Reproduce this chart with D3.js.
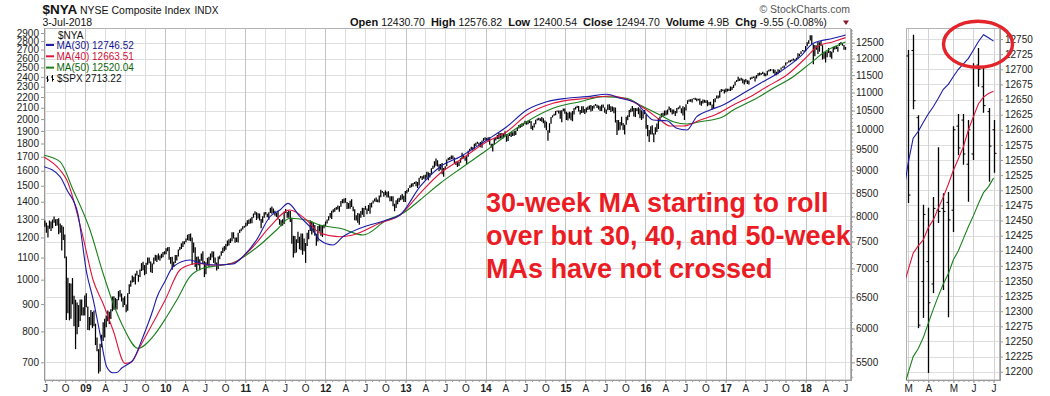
<!DOCTYPE html>
<html>
<head>
<meta charset="utf-8">
<script src="https://cdn.jsdelivr.net/npm/d3@7"></script>
<style>
  body { margin: 0; background: #fff; }
  svg { display: block; font-family: "Liberation Sans", Arial, sans-serif; }
</style>
</head>
<body>
<svg id="chart" width="1050" height="396"></svg>
<script>
// ---------- DATA ----------
// $SPX weekly bars [low, high], one block per year, first week (Monday) of each block below
const spxWeekStarts = ["2008-06-23", "2008-12-29", "2009-12-28", "2011-01-03", "2012-01-02", "2012-12-31",
                       "2013-12-30", "2014-12-29", "2015-12-28", "2017-01-02", "2018-01-01"];
const spx2008 = [[1272,1326],[1257,1291],[1225,1278],[1200,1263],[1246,1291],[1234,1285],[1248,1297],[1278,1313],[1261,1298],[1264,1300],[1217,1303],[1225,1274],[1134,1265],[1187,1256],[1097,1215],[840,1105],[865,1008],[839,985],[845,984],[899,1007],[818,933],[741,917],[790,906],[815,896],[837,918],[857,918],[857,888]];
const spx2009 = [[857,934],[888,943],[805,891],[804,851],[821,877],[812,870],[818,875],[754,827],[734,779],[667,741],[673,758],[747,788],[767,832],[779,845],[814,857],[836,875],[826,871],[844,880],[873,930],[878,931],[879,924],[879,920],[915,952],[929,956],[910,942],[888,925],[896,931],[869,898],[874,943],[940,980],[970,996],[988,1018],[990,1013],[979,1027],[1018,1039],[991,1021],[1012,1045],[1038,1074],[1041,1080],[1019,1065],[1025,1076],[1066,1101],[1073,1101],[1033,1081],[1029,1072],[1069,1100],[1085,1113],[1079,1111],[1090,1119],[1085,1110],[1097,1118],[1102,1127]];
const spx2010 = [[1115,1130],[1116,1145],[1131,1150],[1090,1151],[1071,1103],[1044,1104],[1056,1080],[1075,1112],[1086,1112],[1105,1139],[1136,1151],[1141,1170],[1152,1181],[1165,1181],[1175,1195],[1186,1214],[1183,1218],[1181,1220],[1066,1200],[1123,1174],[1056,1150],[1040,1104],[1064,1105],[1042,1092],[1085,1120],[1071,1131],[1011,1083],[1024,1078],[1063,1099],[1056,1104],[1088,1120],[1101,1130],[1075,1129],[1069,1100],[1040,1077],[1047,1105],[1092,1110],[1109,1131],[1122,1149],[1131,1157],[1138,1167],[1155,1184],[1159,1190],[1171,1196],[1181,1227],[1194,1227],[1173,1200],[1177,1199],[1174,1225],[1223,1240],[1232,1247],[1242,1259],[1251,1262]];
const spx2011 = [[1257,1278],[1262,1293],[1271,1296],[1275,1302],[1276,1311],[1307,1330],[1323,1344],[1294,1338],[1302,1332],[1291,1331],[1249,1300],[1279,1315],[1306,1338],[1325,1339],[1309,1329],[1295,1338],[1334,1364],[1329,1371],[1334,1359],[1318,1346],[1311,1334],[1297,1346],[1268,1300],[1259,1292],[1263,1298],[1272,1341],[1334,1357],[1306,1339],[1306,1347],[1283,1345],[1168,1307],[1101,1209],[1121,1208],[1124,1190],[1171,1230],[1140,1204],[1136,1220],[1114,1220],[1131,1195],[1075,1172],[1157,1225],[1191,1239],[1234,1292],[1215,1285],[1226,1277],[1209,1266],[1158,1219],[1179,1261],[1231,1267],[1209,1265],[1202,1266],[1248,1269]];
const spx2012 = [[1259,1285],[1274,1297],[1291,1315],[1306,1334],[1300,1346],[1336,1355],[1340,1363],[1352,1368],[1354,1378],[1340,1374],[1370,1405],[1391,1415],[1391,1419],[1394,1422],[1357,1398],[1358,1392],[1358,1406],[1368,1415],[1343,1371],[1292,1355],[1291,1321],[1278,1334],[1267,1330],[1306,1345],[1324,1364],[1310,1363],[1353,1375],[1326,1359],[1345,1381],[1329,1392],[1365,1395],[1390,1407],[1401,1419],[1398,1426],[1397,1413],[1396,1438],[1428,1475],[1455,1467],[1430,1460],[1439,1470],[1425,1461],[1426,1465],[1403,1434],[1403,1434],[1373,1434],[1343,1388],[1363,1409],[1385,1420],[1398,1424],[1409,1439],[1414,1448],[1398,1436]];
const spx2013 = [[1398,1467],[1451,1472],[1461,1486],[1485,1503],[1491,1514],[1495,1518],[1511,1524],[1497,1530],[1485,1525],[1501,1552],[1549,1564],[1538,1563],[1546,1570],[1539,1573],[1553,1593],[1536,1590],[1555,1585],[1577,1618],[1612,1636],[1623,1667],[1635,1687],[1630,1674],[1598,1646],[1608,1648],[1577,1654],[1560,1620],[1605,1632],[1632,1680],[1674,1693],[1676,1698],[1681,1709],[1683,1709],[1654,1694],[1640,1665],[1627,1669],[1633,1664],[1656,1689],[1683,1730],[1687,1711],[1670,1696],[1647,1704],[1700,1745],[1740,1760],[1752,1775],[1746,1771],[1760,1799],[1780,1805],[1799,1813],[1779,1806],[1772,1812],[1767,1823],[1818,1844]];
const spx2014 = [[1827,1850],[1823,1843],[1815,1850],[1790,1850],[1770,1799],[1738,1798],[1791,1841],[1824,1847],[1836,1867],[1834,1883],[1839,1882],[1839,1884],[1842,1875],[1857,1897],[1814,1873],[1820,1869],[1859,1884],[1851,1891],[1859,1889],[1862,1902],[1868,1901],[1900,1924],[1921,1950],[1926,1955],[1932,1964],[1944,1968],[1956,1985],[1952,1980],[1955,1985],[1966,1991],[1916,1984],[1905,1944],[1928,1964],[1956,1994],[1988,2005],[1991,2011],[1983,2008],[1978,2019],[1965,2007],[1926,1987],[1906,1977],[1821,1905],[1886,1965],[1960,2019],[2014,2034],[2030,2046],[2034,2071],[2064,2076],[2049,2076],[2003,2075],[1973,2077],[2069,2093]];
const spx2015 = [[2046,2093],[1992,2065],[1988,2056],[2005,2064],[1990,2057],[1981,2072],[2041,2097],[2085,2110],[2098,2119],[2067,2117],[2040,2081],[2054,2114],[2055,2115],[2045,2089],[2057,2103],[2079,2111],[2085,2120],[2067,2126],[2074,2117],[2093,2124],[2119,2134],[2099,2127],[2085,2121],[2072,2115],[2072,2127],[2101,2129],[2056,2102],[2044,2085],[2077,2130],[2079,2133],[2063,2114],[2068,2112],[2052,2105],[1970,2103],[1867,1993],[1903,1992],[1911,1976],[1945,2021],[1908,1967],[1871,1952],[1951,2021],[1990,2033],[2019,2079],[2059,2094],[2067,2116],[2022,2099],[2019,2097],[2070,2095],[2042,2104],[2008,2094],[1993,2077],[2005,2068]];
const spx2016 = [[2043,2081],[1918,2038],[1857,1950],[1812,1908],[1872,1940],[1872,1947],[1810,1881],[1871,1930],[1891,1963],[1917,2009],[1979,2022],[2013,2052],[2022,2056],[2030,2075],[2034,2075],[2039,2084],[2078,2111],[2059,2099],[2039,2084],[2046,2085],[2026,2071],[2051,2099],[2087,2104],[2094,2120],[2050,2096],[2032,2113],[1992,2104],[2075,2132],[2135,2169],[2155,2176],[2156,2178],[2148,2183],[2178,2188],[2172,2193],[2160,2187],[2166,2184],[2128,2187],[2119,2163],[2139,2176],[2145,2175],[2143,2169],[2114,2169],[2124,2153],[2122,2155],[2084,2131],[2089,2182],[2151,2189],[2185,2214],[2187,2214],[2192,2260],[2249,2278],[2257,2272],[2234,2273]];
const spx2017 = [[2245,2282],[2254,2280],[2259,2279],[2258,2301],[2267,2299],[2288,2319],[2311,2352],[2348,2368],[2355,2401],[2357,2383],[2362,2391],[2335,2381],[2323,2371],[2344,2378],[2328,2364],[2322,2362],[2370,2392],[2378,2400],[2387,2403],[2353,2406],[2383,2418],[2407,2440],[2415,2446],[2418,2441],[2431,2454],[2405,2443],[2407,2434],[2416,2464],[2455,2474],[2459,2484],[2466,2478],[2437,2480],[2420,2474],[2417,2454],[2428,2480],[2446,2474],[2474,2500],[2496,2509],[2488,2520],[2521,2552],[2543,2557],[2552,2576],[2557,2582],[2566,2588],[2576,2597],[2566,2590],[2578,2606],[2598,2657],[2624,2652],[2650,2680],[2679,2695],[2673,2692]];
const spx2018 = [[2682,2743],[2738,2787],[2769,2810],[2808,2873],[2759,2871],[2533,2763],[2622,2755],[2698,2747],[2648,2790],[2675,2787],[2741,2802],[2586,2752],[2594,2675],[2553,2672],[2611,2680],[2660,2718],[2613,2683],[2594,2676],[2665,2733],[2701,2743],[2707,2742],[2676,2736],[2742,2779],[2764,2790],[2746,2779],[2698,2753],[2698,2729]];
const spxYears = [spx2008, spx2009, spx2010, spx2011, spx2012, spx2013, spx2014, spx2015, spx2016, spx2017, spx2018];

// $NYA moving averages [date, value]
const ma30 = [["2008-06-27",9090],["2008-09-07",8860],["2008-10-09",8562],["2008-11-27",8071],["2009-01-07",6918],["2009-02-06",6454],["2009-03-08",5930],["2009-04-08",5438],["2009-05-06",5355],["2009-05-25",5358],["2009-06-16",5420],["2009-07-08",5462],["2009-08-06",5532],["2009-09-21",5874],["2009-11-05",6291],["2009-11-22",6488],["2009-12-31",6777],["2010-02-05",7031],["2010-04-23",7153],["2010-06-08",7098],["2010-08-07",7062],["2010-11-05",7080],["2010-12-20",7214],["2011-02-21",7530],["2011-04-23",7994],["2011-06-08",8133],["2011-07-15",8274],["2011-09-07",7994],["2011-11-05",7726],["2011-12-07",7530],["2012-02-05",7434],["2012-03-21",7594],["2012-06-07",7760],["2012-10-07",7927],["2012-12-07",8030],["2013-03-08",8636],["2013-06-08",9090],["2013-09-07",9327],["2014-01-07",9736],["2014-04-08",10074],["2014-07-08",10516],["2014-10-07",10743],["2015-01-07",10837],["2015-04-08",10882],["2015-07-08",10948],["2015-09-07",10837],["2015-11-22",10699],["2015-12-20",10516],["2016-02-05",10249],["2016-04-08",10231],["2016-05-23",10033],["2016-07-08",9989],["2016-08-22",10337],["2016-10-22",10516],["2016-12-20",10651],["2017-03-22",10976],["2017-06-08",11262],["2017-09-07",11603],["2017-12-07",12058],["2018-02-05",12481],["2018-05-07",12642],["2018-06-21",12726],["2018-07-02",12746.52]];
const ma40 = [["2008-06-27",9313],["2008-09-07",9014],["2008-10-08",8785],["2008-12-21",7588],["2009-02-05",6795],["2009-03-22",6400],["2009-05-07",5976],["2009-07-01",5486],["2009-07-31",5508],["2009-09-07",5725],["2009-11-05",6085],["2009-12-31",6454],["2010-03-08",6972],["2010-05-01",7074],["2010-05-23",7093],["2010-08-07",7062],["2010-09-07",7062],["2010-11-05",7093],["2011-02-05",7401],["2011-04-23",7792],["2011-07-23",8133],["2011-10-07",7927],["2011-12-07",7667],["2012-03-08",7594],["2012-05-06",7628],["2012-09-07",7866],["2012-12-07",8030],["2013-03-08",8490],["2013-06-08",8938],["2013-09-07",9249],["2014-01-07",9693],["2014-04-08",9946],["2014-07-08",10381],["2014-11-05",10699],["2015-04-08",10837],["2015-07-23",10900],["2015-11-05",10743],["2016-01-07",10516],["2016-03-08",10249],["2016-04-23",10092],["2016-06-21",10092],["2016-09-07",10249],["2016-11-22",10408],["2017-02-05",10651],["2017-04-23",10882],["2017-07-08",11164],["2017-10-07",11504],["2018-01-07",12058],["2018-02-22",12372],["2018-05-07",12532],["2018-07-02",12663.51]];
const ma50 = [["2008-06-27",9361],["2008-09-07",9208],["2008-11-06",8562],["2009-01-22",7726],["2009-03-22",6918],["2009-05-07",6405],["2009-06-22",6026],["2009-08-29",5701],["2009-11-05",5874],["2010-01-07",6184],["2010-02-22",6454],["2010-04-23",6853],["2010-06-21",7002],["2010-08-22",7044],["2010-11-05",7103],["2011-03-08",7434],["2011-05-23",7726],["2011-07-23",7962],["2011-10-07",7927],["2011-12-07",7826],["2012-03-08",7760],["2012-06-21",7628],["2012-10-07",7927],["2012-12-20",8065],["2013-03-08",8345],["2013-06-08",8711],["2013-09-21",9090],["2014-01-07",9489],["2014-04-08",9862],["2014-07-08",10204],["2014-11-05",10562],["2015-03-08",10743],["2015-06-21",10882],["2015-10-07",10837],["2015-12-07",10651],["2016-03-08",10381],["2016-05-07",10204],["2016-07-08",10144],["2016-09-07",10204],["2016-12-20",10337],["2017-02-05",10516],["2017-05-07",10789],["2017-08-06",11118],["2017-11-05",11454],["2018-01-22",11855],["2018-04-08",12250],["2018-06-08",12450],["2018-07-02",12520.04]];

// inset: weekly bars from the week of 2018-03-05
const insetFirstWeek = "2018-03-05";
const insetHigh  = [12732,12757,12624,12476,12471,12489,12571,12495,12497,12606,12626,12626,12616,12710,12735,12702,12636,12616];
const insetLow   = [12479,12634,12272,12289,12198,12330,12446,12335,12290,12431,12558,12542,12481,12550,12671,12628,12514,12529];
const insetOpen  = [12722,12731,12620,12349,12382,12345,12467,12470,12480,12467,12606,12616,12543,12560,12707,12671,12630,12600];
const insetClose = [12492,12648,12277,12460,12314,12470,12465,12465,12451,12600,12570,12560,12600,12704,12700,12640,12573,12561];
// inset moving averages, one value per week from 2018-02-26
const insetMaFirstWeek = "2018-02-26";
const insetMa30 = [12490,12545,12586,12597,12612,12626,12638,12652,12667,12675,12688,12700,12709,12718,12732,12746,12757,12752,12746.52];
const insetMa40 = [12340,12368,12396,12408,12418,12438,12451,12470,12489,12510,12533,12552,12572,12600,12622,12643,12654,12660,12663.51];
const insetMa50 = [12170,12198,12225,12238,12256,12280,12303,12325,12345,12362,12385,12400,12420,12440,12458,12478,12496,12506,12520.04];

// tick values
const spxTicks = d3.range(700, 3000, 100);
const nyaTicks = d3.range(5500, 13000, 500);
const nyaMinorTicks = d3.range(5300, 13000, 100);
const insetTicks = d3.range(12200, 12751, 25);

const legendItems = [
  { label: "MA(30) 12746.52", color: "#1c1ca8", text: "#14148c" },
  { label: "MA(40) 12663.51", color: "#e0143c", text: "#d0103a" },
  { label: "MA(50) 12520.04", color: "#1a801a", text: "#0e640e" }
];
const headerStats = [["Open", "12430.70"], ["High", "12576.82"], ["Low", "12400.54"],
                     ["Close", "12494.70"], ["Volume", "4.9B"], ["Chg", "-9.55 (-0.08%)"]];
const noteLines = ["30-week MA starting to roll", "over but 30, 40, and 50-week", "MAs have not crossed"];

// ---------- CHART ----------
const parse = d3.utcParse("%Y-%m-%d");
const svg = d3.select("#chart");
const box = { left: 44, right: 851, top: 28.5, bottom: 380 };
const ibox = { left: 906, right: 1000, top: 28.5, bottom: 380 };
const monthLetter = "JFMAMJJASOND";
const gridColor = "#dedede", axisColor = "#9a9a9a", textColor = "#222";

const x = d3.scaleUtc().domain([parse("2008-06-26"), parse("2018-07-27")]).range([box.left, box.right]);
const yL = d3.scaleLog().domain([648.5, 2957]).range([box.bottom, box.top]);
const yR = d3.scaleLog().domain([5256, 12964]).range([box.bottom, box.top]);

const xi = d3.scaleUtc().domain([parse("2018-03-02"), parse("2018-07-11")]).range([ibox.left, ibox.right]);
const yi = d3.scaleLinear().domain([12186.3, 12767.4]).range([ibox.bottom, ibox.top]);

const defs = svg.append("defs");
defs.append("clipPath").attr("id", "clipMain").append("rect")
  .attr("x", box.left).attr("y", box.top).attr("width", box.right - box.left).attr("height", box.bottom - box.top);
defs.append("clipPath").attr("id", "clipInset").append("rect")
  .attr("x", ibox.left).attr("y", ibox.top).attr("width", ibox.right - ibox.left).attr("height", ibox.bottom - ibox.top);

// main grid
const quarters = d3.utcMonth.every(3).range(x.domain()[0], x.domain()[1]);
const grid = svg.append("g");
grid.selectAll(".hg").data(nyaTicks).join("line")
  .attr("x1", box.left).attr("x2", box.right)
  .attr("y1", d => Math.round(yR(d)) + 0.5).attr("y2", d => Math.round(yR(d)) + 0.5)
  .attr("stroke", gridColor);
grid.selectAll(".vg").data(quarters).join("line")
  .attr("x1", d => Math.round(x(d)) + 0.5).attr("x2", d => Math.round(x(d)) + 0.5)
  .attr("y1", box.top).attr("y2", box.bottom)
  .attr("stroke", d => d.getUTCMonth() === 0 ? "#c4c4c4" : gridColor);

// inset grid
const insetWeeks = insetHigh.map((_, i) => d3.utcDay.offset(parse(insetFirstWeek), 7 * i));
const insetMonths = insetWeeks.filter((d, i) => i === 0 || d.getUTCMonth() !== insetWeeks[i - 1].getUTCMonth());
grid.selectAll(".ihg").data(insetTicks).join("line")
  .attr("x1", ibox.left).attr("x2", ibox.right)
  .attr("y1", d => Math.round(yi(d)) + 0.5).attr("y2", d => Math.round(yi(d)) + 0.5)
  .attr("stroke", gridColor);
grid.selectAll(".ivg").data(insetMonths).join("line")
  .attr("x1", d => Math.round(xi(d)) + 0.5).attr("x2", d => Math.round(xi(d)) + 0.5)
  .attr("y1", ibox.top).attr("y2", ibox.bottom)
  .attr("stroke", "#d2d2d2");

// frames
[box, ibox].forEach(b => {
  svg.append("rect").attr("x", b.left + 0.5).attr("y", b.top).attr("width", b.right - b.left - 1)
    .attr("height", b.bottom - b.top).attr("fill", "none").attr("stroke", "#b4b4b4");
});

// axes
function styleAxis(g) {
  g.attr("font-family", null).attr("font-size", 10);
  g.select(".domain").attr("stroke", axisColor);
  g.selectAll(".tick line").attr("stroke", axisColor);
  g.selectAll(".tick text").attr("fill", textColor);
}
svg.append("g").attr("transform", `translate(${box.left},0)`)
  .call(d3.axisLeft(yL).tickValues(spxTicks).tickFormat(d3.format("d")).tickSize(3).tickPadding(2).tickSizeOuter(0))
  .call(styleAxis);
svg.append("g").attr("transform", `translate(${box.right},0)`)
  .call(d3.axisRight(yR).tickValues(nyaMinorTicks.filter(v => v > 5256)).tickFormat("").tickSize(2).tickSizeOuter(0))
  .call(styleAxis);
svg.append("g").attr("transform", `translate(${box.right},0)`)
  .call(d3.axisRight(yR).tickValues(nyaTicks).tickFormat(d3.format("d")).tickSize(4).tickPadding(1).tickSizeOuter(0))
  .call(styleAxis);

const fmtQuarter = d => d.getUTCMonth() === 0 ? d3.utcFormat("%y")(d) : monthLetter[d.getUTCMonth()];
svg.append("g").attr("transform", `translate(0,${box.bottom})`)
  .call(d3.axisBottom(x).ticks(d3.utcMonth.every(1)).tickFormat("").tickSize(2).tickSizeOuter(0))
  .call(styleAxis);
svg.append("g").attr("transform", `translate(0,${box.bottom})`)
  .call(d3.axisBottom(x).tickValues(quarters).tickFormat(fmtQuarter).tickSize(3).tickPadding(1.5).tickSizeOuter(0))
  .call(styleAxis)
  .call(g => g.selectAll(".tick text").attr("font-weight", d => d.getUTCMonth() === 0 ? "bold" : null));

svg.append("g").attr("transform", `translate(${ibox.right},0)`)
  .call(d3.axisRight(yi).tickValues(insetTicks).tickFormat(d3.format("d")).tickSize(3).tickPadding(2).tickSizeOuter(0))
  .call(styleAxis);
svg.append("g").attr("transform", `translate(0,${ibox.bottom})`)
  .call(d3.axisBottom(xi).tickValues(insetWeeks).tickFormat("").tickSize(2).tickSizeOuter(0))
  .call(styleAxis);
svg.append("g").attr("transform", `translate(0,${ibox.bottom})`)
  .call(d3.axisBottom(xi).tickValues(insetMonths).tickFormat(d => monthLetter[d.getUTCMonth()]).tickSize(3).tickPadding(1.5).tickSizeOuter(0))
  .call(styleAxis);

// main plot: SPX bars (left scale) + NYA moving averages (right scale)
const spxBars = spxYears.flatMap((rows, k) =>
  rows.map((r, i) => ({ date: d3.utcDay.offset(parse(spxWeekStarts[k]), 7 * i), low: r[0], high: r[1] })));

const plot = svg.append("g").attr("clip-path", "url(#clipMain)");
plot.append("g").selectAll("line").data(spxBars).join("line")
  .attr("x1", d => x(d.date)).attr("x2", d => x(d.date))
  .attr("y1", d => yL(d.low)).attr("y2", d => yL(d.high))
  .attr("stroke", "#000").attr("stroke-width", 1.25);

const maLine = d3.line().x(d => x(parse(d[0]))).y(d => yR(d[1])).curve(d3.curveMonotoneX);
[[ma50, legendItems[2].color], [ma40, legendItems[1].color], [ma30, legendItems[0].color]].forEach(([s, c]) => {
  plot.append("path").datum(s).attr("d", maLine).attr("fill", "none").attr("stroke", c).attr("stroke-width", 1.1);
});

// inset plot
const iplot = svg.append("g").attr("clip-path", "url(#clipInset)");
const insetBars = insetWeeks.map((d, i) => ({ date: d, high: insetHigh[i], low: insetLow[i], open: insetOpen[i], close: insetClose[i] }));
const ib = iplot.append("g").attr("stroke", "#000").attr("stroke-width", 1.3);
ib.selectAll(".hl").data(insetBars).join("line")
  .attr("x1", d => Math.round(xi(d.date)) + 0.5).attr("x2", d => Math.round(xi(d.date)) + 0.5)
  .attr("y1", d => yi(d.low)).attr("y2", d => yi(d.high));
ib.selectAll(".op").data(insetBars).join("line")
  .attr("x1", d => Math.round(xi(d.date)) - 1.5).attr("x2", d => Math.round(xi(d.date)) + 0.5)
  .attr("y1", d => yi(d.open)).attr("y2", d => yi(d.open)).attr("stroke-width", 1);
ib.selectAll(".cl").data(insetBars).join("line")
  .attr("x1", d => Math.round(xi(d.date)) + 0.5).attr("x2", d => Math.round(xi(d.date)) + 2.5)
  .attr("y1", d => yi(d.close)).attr("y2", d => yi(d.close)).attr("stroke-width", 1);

const insetMaLine = d3.line().x((d, i) => xi(d3.utcDay.offset(parse(insetMaFirstWeek), 7 * i))).y(d => yi(d));
[[insetMa50, legendItems[2].color], [insetMa40, legendItems[1].color], [insetMa30, legendItems[0].color]].forEach(([s, c]) => {
  iplot.append("path").datum(s).attr("d", insetMaLine).attr("fill", "none").attr("stroke", c).attr("stroke-width", 1.1);
});

// legend
const lg = svg.append("g").attr("font-size", 10);
lg.append("text").attr("x", 58).attr("y", 38.5).attr("fill", "#111").text("$NYA");
legendItems.forEach((it, i) => {
  const yy = 45 + i * 11.3;
  lg.append("rect").attr("x", 46).attr("y", yy - 1).attr("width", 8).attr("height", 2).attr("fill", it.color);
  lg.append("text").attr("x", 56.5).attr("y", yy + 3.5).attr("fill", it.text).text(it.label);
});
const icon = lg.append("g").attr("stroke", "#000").attr("stroke-width", 1);
[[47.5, 76, 82], [52.5, 75, 81.5]].forEach(([bx, t, b]) => {
  icon.append("line").attr("x1", bx).attr("x2", bx).attr("y1", t).attr("y2", b);
  icon.append("line").attr("x1", bx - 1.5).attr("x2", bx).attr("y1", t + 2).attr("y2", t + 2);
  icon.append("line").attr("x1", bx).attr("x2", bx + 1.5).attr("y1", b - 2).attr("y2", b - 2);
});
lg.append("text").attr("x", 57).attr("y", 82).attr("fill", "#111").text("$SPX 2713.22");

// header
svg.append("text").attr("x", 42.5).attr("y", 14).attr("font-size", 13.5).attr("font-weight", "bold").attr("fill", "#111").text("$NYA");
svg.append("text").attr("x", 80).attr("y", 13.5).attr("font-size", 10.5).attr("fill", "#111").text("NYSE Composite Index");
svg.append("text").attr("x", 194.5).attr("y", 13.5).attr("font-size", 10).attr("fill", "#111").text("INDX");
svg.append("text").attr("x", 42.5).attr("y", 26).attr("font-size", 10.5).attr("fill", "#111").text("3-Jul-2018");
svg.append("text").attr("x", 850).attr("y", 13).attr("text-anchor", "end").attr("font-size", 10.5).attr("fill", "#555").text("\u00A9 StockCharts.com");

const stats = svg.append("text").attr("x", 350).attr("y", 26).attr("fill", "#111");
headerStats.forEach(([k, v], i) => {
  stats.append("tspan").attr("dx", i === 0 ? 0 : 6).attr("font-size", 11).attr("font-weight", "bold").text(k);
  stats.append("tspan").attr("dx", 3).attr("font-size", 10.5).text(v);
});
svg.append("path").attr("d", "M843,20.5 L849,20.5 L846,25 Z").attr("fill", "#8b1a2b");

// annotation
const note = svg.append("text").attr("font-size", 27).attr("font-weight", "bold").attr("fill", "#ec1c24");
noteLines.forEach((t, i) => note.append("tspan").attr("x", 486).attr("y", 212 + i * 33).text(t));
svg.append("ellipse").attr("cx", 978).attr("cy", 44.3).attr("rx", 34.5).attr("ry", 23)
  .attr("fill", "none").attr("stroke", "#e3242b").attr("stroke-width", 3.4);
</script>
</body>
</html>
